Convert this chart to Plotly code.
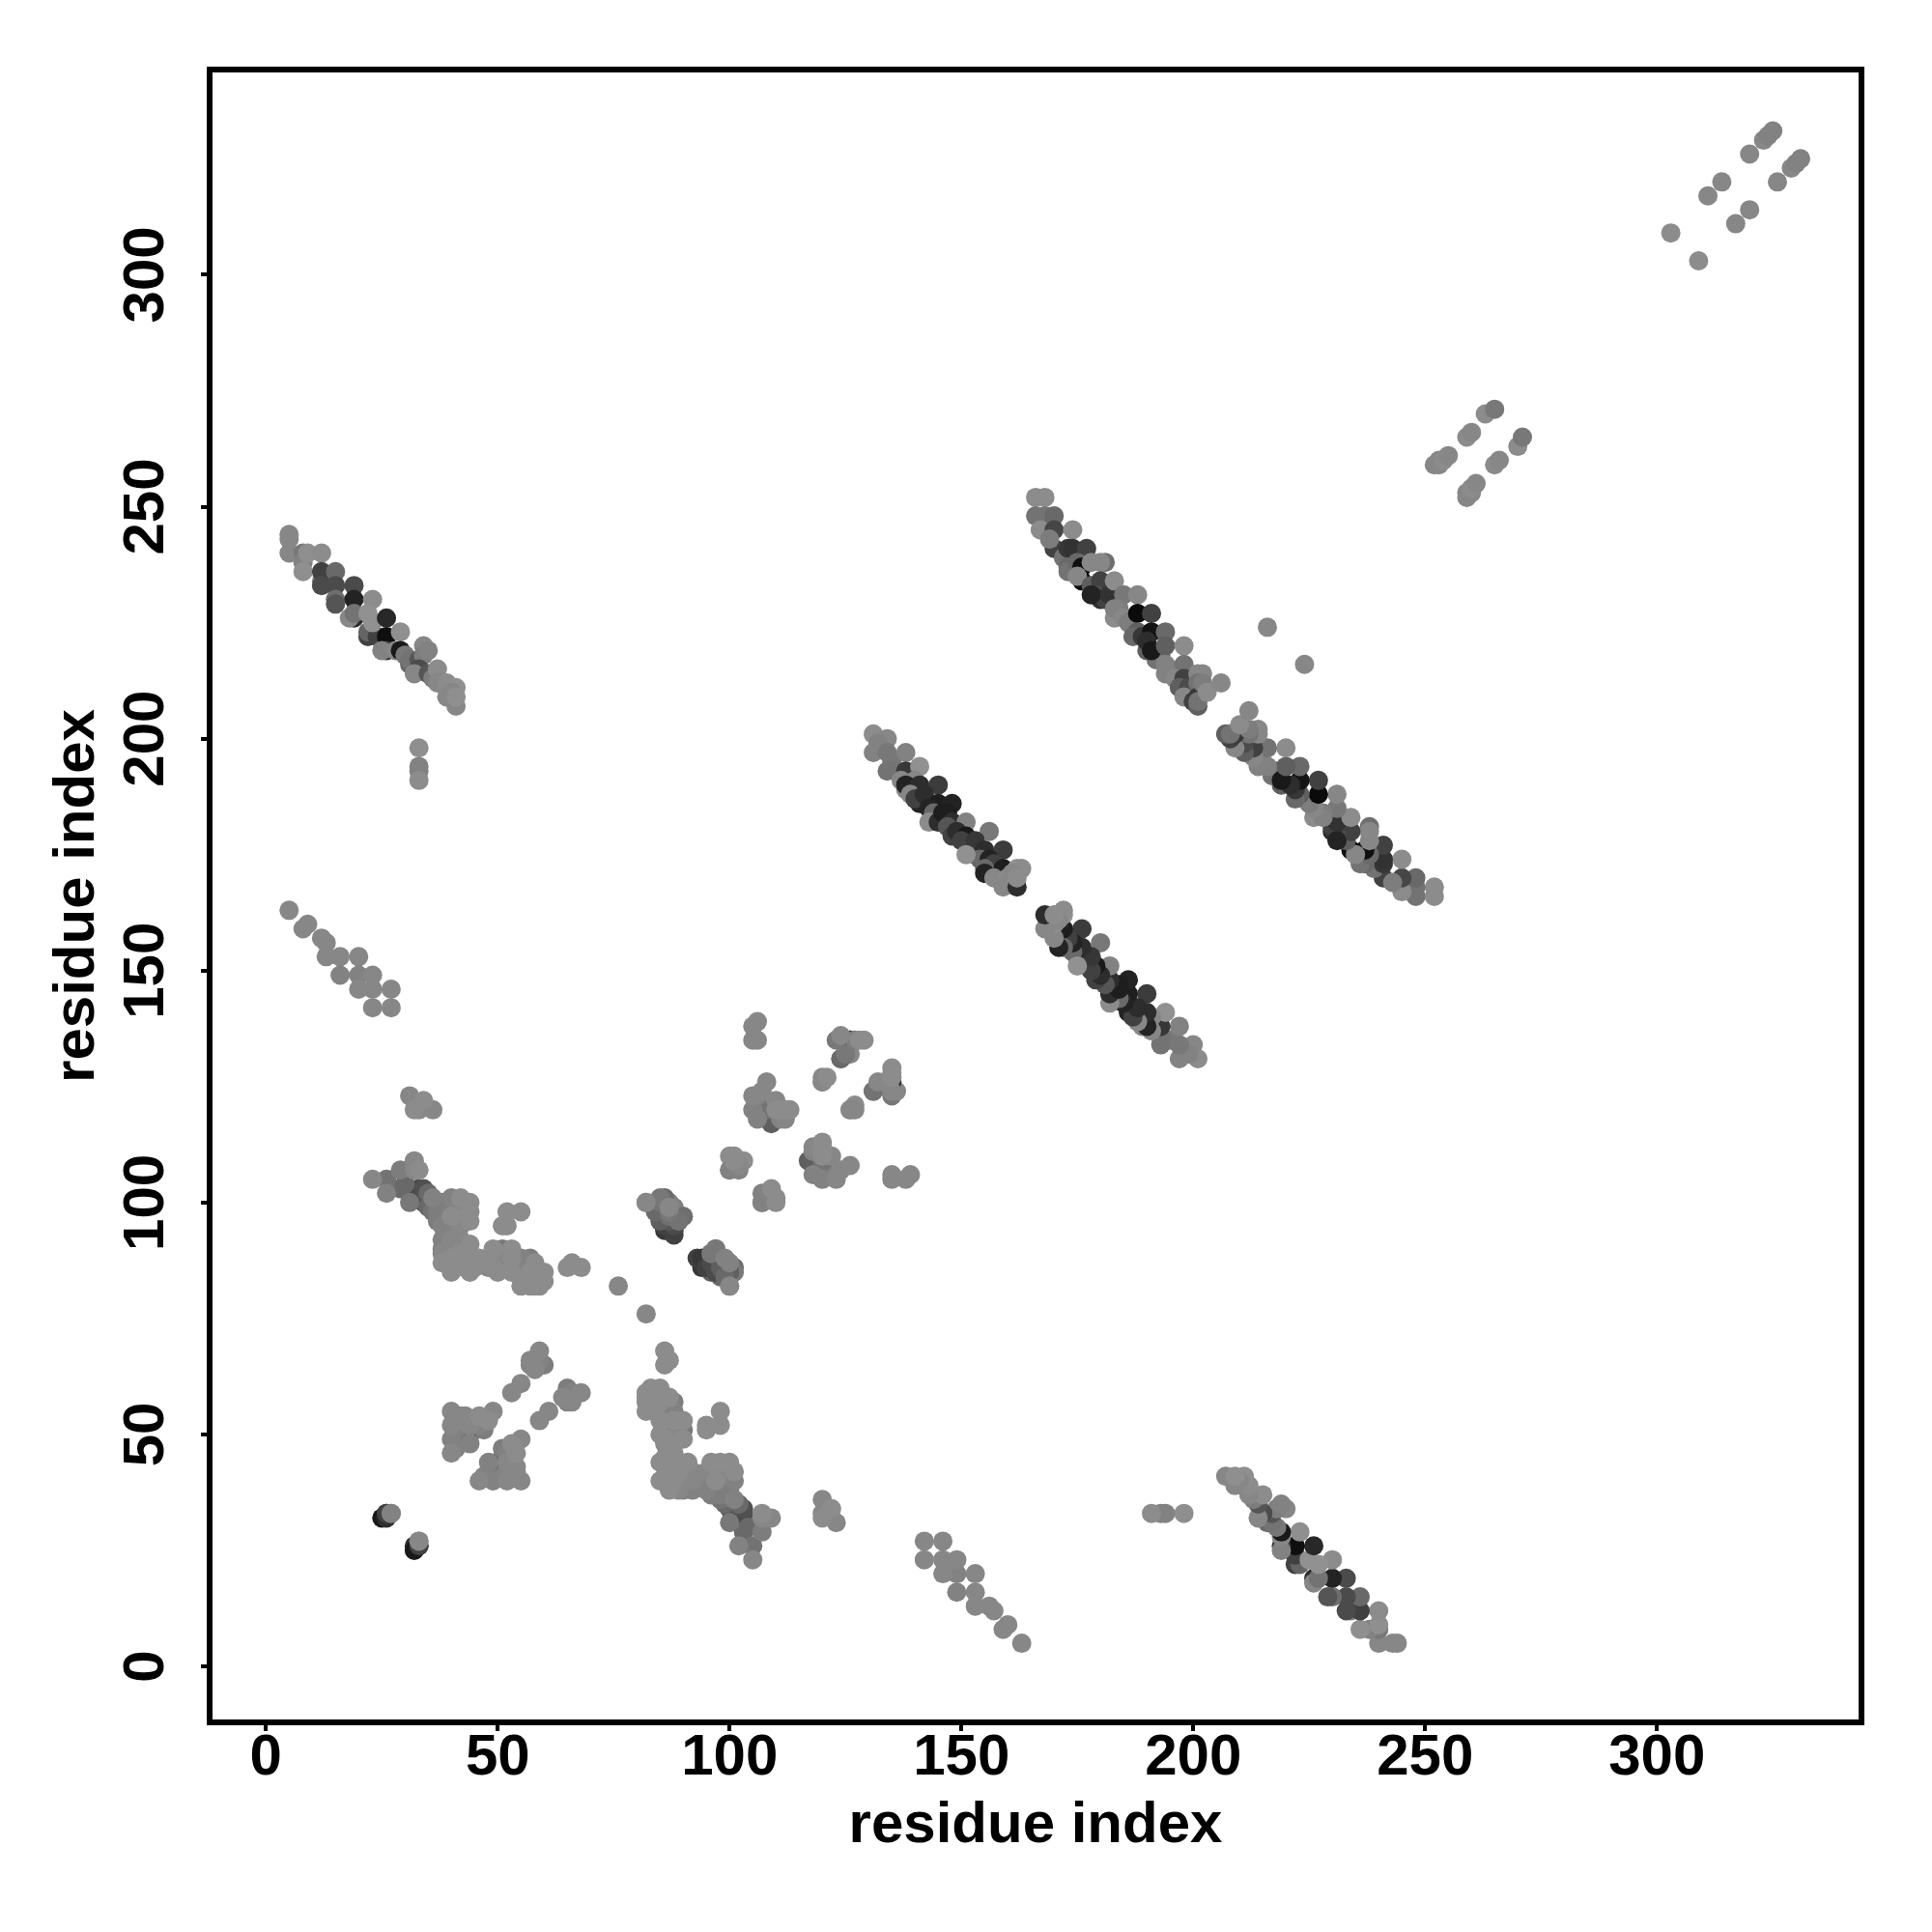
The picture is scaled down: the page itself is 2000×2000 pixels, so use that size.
import plotly.graph_objects as go

# Contact map: symmetric, each (i, j) listed once with i < j, shade = grey level.
band_a_i = [5,5,5,8,8,9,8,12,12,12,12,15,15,15,15,19,19,19,18,19,23,22,22,22,24,23,26,26,26,25,28,29,29,30,31,31,33,34,34,33,32,35,35,36,37,37,38,39,41,40,41,39,41,33,33,33,33]
band_a_j = [244,243,240,240,238,240,236,240,234,236,233,236,233,230,229,233,230,226,226,227,230,227,222,223,222,225,226,222,219,219,219,223,219,218,216,217,217,220,218,215,214,214,219,213,215,212,212,212,211,210,207,209,209,198,194,193,191]
band_a_s = [130,130,130,115,125,138,138,135,125,60,70,100,70,105,80,70,30,40,130,110,135,140,60,95,60,140,35,10,50,125,130,138,20,115,100,110,80,130,120,70,130,80,125,120,135,130,130,135,138,130,130,130,138,138,125,125,135]

band_b_i = [166,168,166,168,170,167,170,170,169,172,174,173,174,177,173,173,175,176,176,175,178,178,181,180,180,179,180,181,178,182,183,185,188,184,183,183,185,186,188,191,188,187,189,191,190,194,193,190,192,191,194,198,194,195,194,198,196,198,197,199,198,201,202,201,200,201,201,201,202,203,206,216]
band_b_j = [252,252,248,248,248,245,245,241,243,239,245,241,241,241,237,236,238,237,234,235,238,233,238,238,234,231,230,230,231,231,234,231,231,228,226,228,226,225,227,227,223,222,222,223,219,223,218,221,217,219,220,220,216,215,214,216,213,213,211,211,209,214,214,212,208,207,209,208,212,210,212,224]
band_b_s = [135,135,110,110,100,135,65,60,120,110,135,50,45,60,100,110,100,10,10,130,130,90,105,130,60,70,40,60,30,45,135,115,130,120,135,125,130,120,5,60,90,100,50,15,90,100,100,40,110,20,90,135,125,125,125,110,130,60,90,70,130,130,130,110,60,90,50,110,120,135,130,130]

band_c_i = [131,134,132,131,134,135,134,136,138,138,141,137,140,138,138,141,139,141,145,140,142,145,143,148,144,143,145,146,147,148,147,151,148,149,151,150,156,153,153,155,154,151,159,156,157,155,155,159,157,160,162,163,161,159,162,162]
band_c_j = [201,200,199,197,197,195,193,193,197,193,194,191,191,189,190,190,188,186,190,187,188,186,185,186,184,182,182,184,184,182,181,182,179,180,179,178,180,178,175,176,174,175,176,174,173,172,171,172,170,170,172,172,171,168,168,170]
band_c_s = [135,130,125,125,115,115,110,110,125,50,140,130,130,130,30,40,130,30,55,60,40,25,30,30,100,135,40,25,25,40,80,125,60,40,20,60,115,50,50,40,100,140,55,30,60,100,30,25,130,135,140,135,130,130,40,135]

band_d_i = [5,8,9,12,13,13,16,20,16,20,23,20,23,27,23,27]
band_d_j = [163,159,160,157,156,153,153,153,149,149,149,146,146,146,142,142]
band_d_s = [130,130,130,130,130,130,130,130,125,125,130,130,130,130,130,130]

left_i = [23,26,26,29,30,29,32,32,33,31,32,33,34,34,35,35,36,36,37,38,40,42,38,42,40,44,37,44,39,38,40,42,44,38,40,42,38,39,41,38,42,40,43,44,43,45,44,42,44,46,40,47,48,48,49,50,50,52,52,54,54,53,55,55,56,52,51,52,55,49,51,49,51,53,53,57,57,58,58,59,58,55,57,58,59,60,60,65,66,68,76]
left_j = [105,105,102,107,104,103,109,107,107,100,102,103,103,100,102,99,101,98,98,100,101,101,95,95,97,98,96,96,93,92,92,92,100,90,90,98,89,87,87,87,89,85,86,85,90,86,88,87,91,88,88,87,88,86,90,88,85,89,87,87,85,88,88,84,86,98,95,95,98,86,90,88,86,90,85,88,85,87,85,85,83,82,82,82,82,85,83,86,87,86,82]
left_s = [130,110,125,120,100,100,130,130,135,115,65,70,75,80,100,100,125,110,120,120,125,135,125,130,135,135,120,135,125,125,130,130,135,125,130,130,130,125,125,135,135,135,130,135,130,135,135,135,135,135,135,135,130,130,135,125,135,125,115,120,125,135,125,130,125,135,135,135,135,135,115,130,125,135,135,120,135,135,135,135,135,135,135,135,135,135,135,135,135,135,130]

mid_i = [82,85,84,85,86,87,88,86,89,85,87,86,88,88,90,93,94,95,96,95,97,96,96,97,98,97,99,98,100,101,101,100,100,100,101,103,102,107,108,109,110]
mid_j = [100,100,99,98,97,96,96,98,96,97,100,95,94,99,97,88,86,86,85,88,90,87,89,87,87,85,87,84,85,85,86,82,110,107,108,109,107,100,102,101,101]
mid_s = [130,90,100,60,60,70,50,90,115,70,125,60,50,125,115,60,50,60,90,70,105,80,110,105,115,70,130,100,110,115,100,130,135,125,110,135,125,125,130,135,135]

high_i = [105,105,106,106,105,105,106,107,108,107,108,108,109,109,110,106,110,111,110,112,112,113,120,120,124,124,126,126,127,129,126,127,132,131,135,135,135,136,135,120,122,123,120,120,121]
high_j = [135,138,135,139,123,120,123,124,126,119,120,118,120,117,118,118,122,118,120,118,120,120,126,127,135,131,132,135,135,135,120,121,125,124,128,126,127,124,123,32,34,31,33,36,33]
high_s = [130,130,130,130,130,125,125,130,130,80,110,60,100,90,70,125,130,125,135,130,135,135,130,130,130,110,130,40,135,135,130,135,115,100,135,30,120,130,115,135,135,130,130,130,130]

core_i = [40,40,40,40,41,41,41,41,42,42,42,43,43,44,44,44,45,46,46,47,48,49,53,55,58,57,59,59,57,60,25,26,27,32,33,33]
core_j = [46,49,52,55,47,50,51,53,49,52,54,50,54,50,48,52,51,52,54,51,53,55,59,61,64,65,66,68,66,65,32,33,33,26,26,27]
core_s = [130,125,130,130,125,110,120,130,100,125,130,80,130,85,125,130,100,125,135,120,135,130,130,130,130,125,125,130,130,120,20,60,130,40,60,125]

far_i = [252,253,253,254,255,259,260,263,265,303,311,314,320,323,324,325]
far_j = [259,259,260,260,261,265,266,270,271,309,317,320,326,329,330,331]
far_s = [130,130,130,135,130,135,130,135,115,135,130,130,130,130,125,125]

x_tick_vals = [0, 50, 100, 150, 200, 250, 300]
y_tick_vals = [0, 50, 100, 150, 200, 250, 300]
axis_title = "residue index"

# Long strands keep their listed order; in the compact clusters the lighter dots lie on top.
strand_i = band_a_i + band_b_i + band_c_i + band_d_i + far_i
strand_j = band_a_j + band_b_j + band_c_j + band_d_j + far_j
strand_s = band_a_s + band_b_s + band_c_s + band_d_s + far_s
cluster = sorted(zip(left_s + mid_s + high_s + core_s,
                     left_i + mid_i + high_i + core_i,
                     left_j + mid_j + high_j + core_j))
cluster_s = [c[0] for c in cluster]
cluster_i = [c[1] for c in cluster]
cluster_j = [c[2] for c in cluster]

xs = strand_i + strand_j + cluster_i + cluster_j
ys = strand_j + strand_i + cluster_j + cluster_i
shades = strand_s + strand_s + cluster_s + cluster_s
cols = [f"rgb({s+5},{s+5},{s+5})" for s in shades]

fig = go.Figure(go.Scatter(
    x=xs, y=ys, mode="markers",
    marker=dict(size=20, color=cols, line=dict(width=0)),
    showlegend=False, hoverinfo="skip",
))

font = dict(family="Liberation Sans", size=60, color="black", weight="bold")
axis_common = dict(
    showgrid=False, zeroline=False, showline=True, mirror=True,
    linecolor="black", linewidth=6,
    ticks="outside", ticklen=6, tickwidth=3.5, tickcolor="black",
    tickfont=font,
)
fig.update_xaxes(range=[-11.52, 343.5], tickvals=x_tick_vals, ticktext=[str(v) for v in x_tick_vals],
                 ticklabelstandoff=-27,
                 title=dict(text=axis_title, font=font, standoff=18), **axis_common)
fig.update_yaxes(range=[-11.43, 343.6], tickvals=y_tick_vals, ticktext=[str(v) for v in y_tick_vals],
                 tickangle=-90, ticklabelstandoff=15, ticklabelshift=9,
                 title=dict(text=axis_title, font=font, standoff=0), **axis_common)
fig.update_layout(
    width=2000, height=2000, autosize=False,
    paper_bgcolor="white", plot_bgcolor="white",
    margin=dict(l=220, r=75.7, t=74.5, b=219.8, autoexpand=False),
)
fig.write_html("out.html", post_script="document.body.style.margin='0';",
               config={"displayModeBar": False})
